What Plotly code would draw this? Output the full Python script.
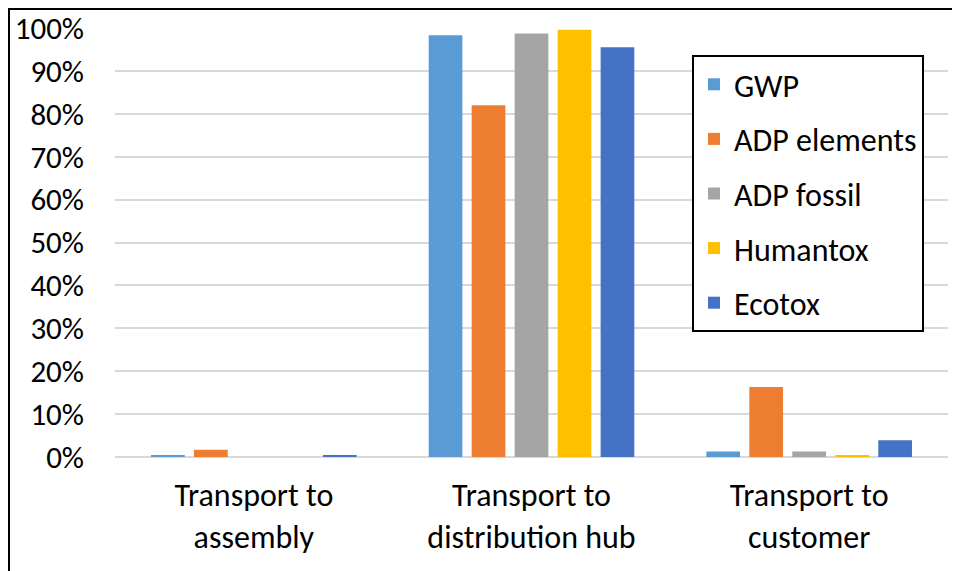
import plotly.graph_objects as go

categories = ["Transport to<br>assembly", "Transport to<br>distribution hub", "Transport to<br>customer"]
series_names = ["GWP", "ADP elements", "ADP fossil", "Humantox", "Ecotox"]
gwp = [0.004, 0.983, 0.013]
adp_elements = [0.017, 0.820, 0.163]
adp_fossil = [0.000, 0.987, 0.013]
humantox = [0.000, 0.996, 0.004]
ecotox = [0.004, 0.955, 0.039]
colors = ["#5B9BD5", "#ED7D31", "#A5A5A5", "#FFC000", "#4472C4"]
y_tick_vals = [0, 0.1, 0.2, 0.3, 0.4, 0.5, 0.6, 0.7, 0.8, 0.9, 1.0]
y_tick_text = ["0%", "10%", "20%", "30%", "40%", "50%", "60%", "70%", "80%", "90%", "100%"]

FONT = "Carlito, Calibri, Lato, sans-serif"

fig = go.Figure()
for i, (name, vals) in enumerate(zip(series_names, [gwp, adp_elements, adp_fossil, humantox, ecotox])):
    fig.add_trace(go.Bar(
        x=categories, y=vals, name=name,
        marker=dict(color=colors[i], line=dict(width=0)),
        legendgroup=name,
    ))

OFF = 8  # page body margin
W, H = 960 - OFF, 571 - OFF
L, R, T, B = 115 - OFF, 12, 28 - OFF, 114
pw, ph = W - L - R, H - T - B

fig.update_layout(
    width=W, height=H,
    margin=dict(l=L, r=R, t=T, b=B, autoexpand=False),
    paper_bgcolor="white", plot_bgcolor="white",
    barmode="group", bargap=0.226, bargroupgap=0.216,
    font=dict(family=FONT, size=32, color="black"),
    showlegend=True,
    legend=dict(
        x=(692 - OFF - L) / pw, y=(H - B - (55 - OFF)) / ph, xanchor="left", yanchor="top",
        bordercolor="black", borderwidth=2, bgcolor="white",
        font=dict(family=FONT, size=32, color="black"),
        tracegroupgap=10, itemwidth=30,
    ),
    xaxis=dict(
        automargin=False,
        showgrid=False, showline=False, ticks="", ticklabelstandoff=16,
        tickfont=dict(family=FONT, size=32, color="black"),
    ),
    yaxis=dict(
        automargin=False,
        range=[0, 1.0], tickvals=y_tick_vals, ticktext=y_tick_text,
        showgrid=True, gridcolor="#D9D9D9", gridwidth=1.5,
        zeroline=True, zerolinecolor="#D9D9D9", zerolinewidth=2,
        showline=False, ticks="", ticklabelstandoff=30,
        tickfont=dict(family=FONT, size=31, color="black"),
    ),
)

# outer chart border (top and left visible, rest cropped)
fig.add_shape(type="rect", xref="paper", yref="paper",
              x0=(1 - L) / pw, x1=(W + 20 - L) / pw,
              y0=(H - B - (H + 20)) / ph, y1=(H - B - 1) / ph,
              line=dict(color="black", width=2), fillcolor="rgba(0,0,0,0)", layer="above")

fig.write_html("out.html")
